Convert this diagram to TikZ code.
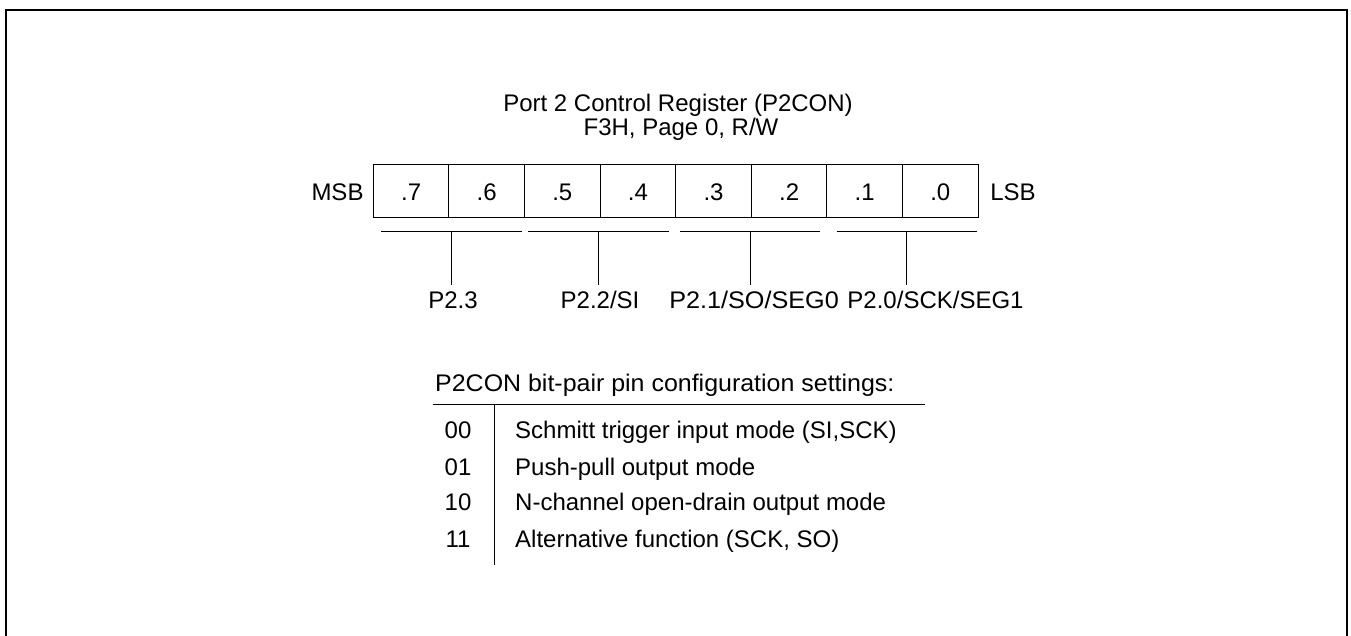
\documentclass[tikz,border=0pt]{standalone}
\usepackage{fontspec}
\setmainfont{Liberation Sans}
\begin{document}
\begin{tikzpicture}[x=1pt,y=-1pt,
  every node/.style={font=\fontsize{24}{28}\selectfont, inner sep=0pt, text=black},
  cell/.style={draw, line width=1pt, minimum width=75.6pt, minimum height=53.7pt, anchor=center},
  thin/.style={line width=1pt},
  frame/.style={line width=2pt}
]
\useasboundingbox (0,0) rectangle (1351,635);
% frame (open at the bottom)
\draw[frame] (6,640) -- (6,10) -- (1347,10) -- (1347,640);

% title
\node[anchor=base] (t1) at (678,111.5) {Port 2 Control Register (P2CON)};
\node[anchor=base] (t2) at (681,135) {F3H, Page 0, R/W};

% register cells
\foreach \k/\b in {0/.7,1/.6,2/.5,3/.4,4/.3,5/.2,6/.1,7/.0} {
  \node[cell] (c\k) at ({373.3+75.6*(\k+0.5)},191) {};
  \node[anchor=base] (b\k) at ({373.3+75.6*(\k+0.5)},200) {\b};
}
\node[anchor=base] (msb) at (337.5,200) {MSB};
\node[anchor=base] (lsb) at (1013,200) {LSB};

% bracket groups
\foreach \i/\l/\r/\m in {1/381/521.7/451.3, 2/528.3/669.3/598.8, 3/680/820/750, 4/836.7/976.7/906.7} {
  \coordinate (gl\i) at (\l,231.7);
  \coordinate (gr\i) at (\r,231.7);
  \coordinate (gm\i) at (\m,231.7);
  \coordinate (ge\i) at (\m,285);
  \draw[thin] (gl\i) -- (gr\i);
  \draw[thin] (gm\i) -- (ge\i);
}
\node[anchor=base] (p1) at (453,308) {P2.3};
\node[anchor=base] (p2) at (600,308) {P2.2/SI};
\node[anchor=base] (p3) at (754,308) {\scalebox{1.05}[1]{P2.1/SO/SEG0}};
\node[anchor=base] (p4) at (935.5,308) {P2.0/SCK/SEG1};

% table
\node[anchor=base west] (hdr) at (435,391) {\scalebox{1.04}[1]{P2CON bit-pair pin configuration settings:}};
\coordinate (hl) at (433,404);
\coordinate (hr) at (925,404);
\coordinate (vt) at (494.5,404);
\coordinate (vb) at (494.5,565);
\draw[thin] (hl) -- (hr);
\draw[thin] (vt) -- (vb);
\node[anchor=base] (k0) at (458,438.5) {00};
\node[anchor=base] (k1) at (458,475) {01};
\node[anchor=base] (k2) at (458,510.5) {10};
\node[anchor=base] (k3) at (458,547) {11};
\node[anchor=base west] (d0) at (515,438.5) {Schmitt trigger input mode (SI,SCK)};
\node[anchor=base west] (d1) at (515,475) {Push-pull output mode};
\node[anchor=base west] (d2) at (515,510.5) {N-channel open-drain output mode};
\node[anchor=base west] (d3) at (515,547) {Alternative function (SCK, SO)};
\end{tikzpicture}
\end{document}
